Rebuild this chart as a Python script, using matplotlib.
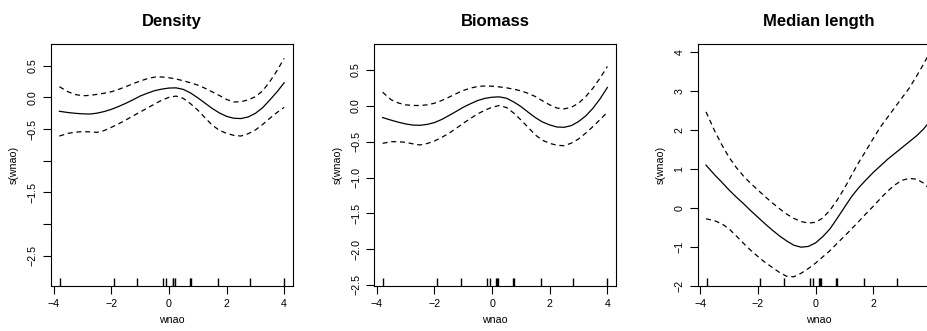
import matplotlib
matplotlib.use('Agg')
import matplotlib.pyplot as plt

plt.rcParams['font.family'] = ['Liberation Sans', 'DejaVu Sans']

wnao = [-3.8, -3.5, -3.25, -3.0, -2.75, -2.5, -2.25, -2.0, -1.75, -1.5, -1.25,
        -1.0, -0.75, -0.5, -0.25, 0.0, 0.25, 0.5, 0.75, 1.0, 1.25, 1.5, 1.75,
        2.0, 2.25, 2.5, 2.75, 3.0, 3.25, 3.5, 3.75, 4.0]

# observed wnao values (rug)
rug_x = [-3.78, -1.91, -1.09, -0.19, -0.09, 0.13, 0.16, 0.20,
         0.72, 0.76, 1.70, 2.82, 3.98]

# Density
dens_fit = [-0.22, -0.24, -0.252, -0.26, -0.264, -0.25, -0.225, -0.19, -0.145,
            -0.095, -0.04, 0.02, 0.065, 0.105, 0.13, 0.147, 0.15, 0.126, 0.07,
            -0.006, -0.09, -0.174, -0.245, -0.30, -0.33, -0.335, -0.31, -0.253,
            -0.165, -0.043, 0.085, 0.23]
dens_up = [0.168, 0.088, 0.045, 0.026, 0.03, 0.047, 0.065, 0.088, 0.125, 0.168,
           0.215, 0.257, 0.295, 0.32, 0.322, 0.31, 0.29, 0.262, 0.23, 0.194,
           0.145, 0.088, 0.03, -0.032, -0.074, -0.069, -0.04, 0.01, 0.1, 0.247,
           0.42, 0.616]
dens_lo = [-0.611, -0.569, -0.55, -0.542, -0.545, -0.553, -0.525, -0.474,
           -0.42, -0.358, -0.295, -0.232, -0.17, -0.106, -0.045, 0.0, 0.02,
           -0.016, -0.1, -0.2, -0.32, -0.437, -0.52, -0.569, -0.6, -0.611,
           -0.575, -0.516, -0.43, -0.332, -0.24, -0.158]

# Biomass
bio_fit = [-0.163, -0.2, -0.228, -0.252, -0.268, -0.271, -0.258, -0.233, -0.19,
           -0.135, -0.078, -0.019, 0.03, 0.075, 0.105, 0.121, 0.126, 0.107,
           0.055, -0.009, -0.088, -0.163, -0.225, -0.266, -0.295, -0.299,
           -0.275, -0.219, -0.14, -0.033, 0.1, 0.257]
bio_up = [0.191, 0.084, 0.04, 0.014, 0.006, 0.005, 0.015, 0.037, 0.075, 0.121,
          0.17, 0.215, 0.248, 0.271, 0.278, 0.275, 0.265, 0.252, 0.233, 0.21,
          0.175, 0.131, 0.07, 0.014, -0.03, -0.042, -0.02, 0.037, 0.13, 0.247,
          0.39, 0.55]
bio_lo = [-0.523, -0.5, -0.5, -0.509, -0.53, -0.546, -0.525, -0.49, -0.44,
          -0.383, -0.315, -0.243, -0.175, -0.112, -0.06, -0.019, 0.005, -0.023,
          -0.1, -0.196, -0.3, -0.406, -0.48, -0.523, -0.55, -0.556, -0.52,
          -0.462, -0.38, -0.289, -0.19, -0.089]

# Median length
len_fit = [1.10, 0.85, 0.66, 0.46, 0.28, 0.11, -0.07, -0.24, -0.41, -0.57,
           -0.72, -0.85, -0.96, -1.01, -0.99, -0.90, -0.74, -0.54, -0.27, 0.01,
           0.29, 0.52, 0.72, 0.91, 1.08, 1.25, 1.40, 1.55, 1.70, 1.85, 2.03,
           2.25]
len_up = [2.47, 1.98, 1.62, 1.30, 1.04, 0.82, 0.63, 0.46, 0.29, 0.13, -0.02,
          -0.16, -0.27, -0.35, -0.39, -0.37, -0.26, -0.06, 0.2, 0.5, 0.84,
          1.17, 1.47, 1.78, 2.08, 2.33, 2.58, 2.83, 3.08, 3.38, 3.7, 4.05]
len_lo = [-0.28, -0.33, -0.41, -0.54, -0.72, -0.91, -1.09, -1.25, -1.40,
          -1.53, -1.66, -1.76, -1.77, -1.68, -1.56, -1.42, -1.26, -1.1, -0.91,
          -0.73, -0.54, -0.35, -0.15, 0.04, 0.24, 0.43, 0.59, 0.71, 0.76,
          0.74, 0.64, 0.45]

titles = ['Density', 'Biomass', 'Median length']
fits = [dens_fit, bio_fit, len_fit]
ups = [dens_up, bio_up, len_up]
los = [dens_lo, bio_lo, len_lo]
ylims = [(-2.975, 0.843), (-2.51, 0.864), (-1.99, 4.216)]
yticks = [[-2.5, -2.0, -1.5, -1.0, -0.5, 0.0, 0.5],
          [-2.5, -2.0, -1.5, -1.0, -0.5, 0.0, 0.5],
          [-2, -1, 0, 1, 2, 3, 4]]
ylabels = [['\u22122.5', '', '\u22121.5', '', '\u22120.5', '0.0', '0.5'],
           ['\u22122.5', '\u22122.0', '\u22121.5', '\u22121.0', '\u22120.5', '0.0', '0.5'],
           ['\u22122', '\u22121', '0', '1', '2', '3', '4']]
xticks = [-4, -2, 0, 2, 4]

fig = plt.figure(figsize=(9.28, 3.31), dpi=100)
lefts = [0.0550, 0.4033, 0.7518]

for i in range(3):
    ax = fig.add_axes([lefts[i], 0.1369, 0.2605, 0.7302])
    ax.plot(wnao, fits[i], color='black', lw=0.9)
    ax.plot(wnao, ups[i], color='black', lw=0.9, linestyle=(0, (4, 3)))
    ax.plot(wnao, los[i], color='black', lw=0.9, linestyle=(0, (4, 3)))
    ax.vlines(rug_x, 0, 0.03, transform=ax.get_xaxis_transform(),
              color='black', lw=1.0)
    ax.set_xlim(-4.09, 4.30)
    ax.set_ylim(*ylims[i])
    ax.set_xticks(xticks)
    ax.set_xticklabels(['\u22124', '\u22122', '0', '2', '4'])
    ax.set_yticks(yticks[i])
    ax.set_yticklabels(ylabels[i], rotation=90, va='center')
    ax.tick_params(direction='out', length=6, width=0.8, labelsize=7.7,
                   pad=3.5)
    for s in ax.spines.values():
        s.set_linewidth(0.8)
    ax.set_title(titles[i], fontsize=12, fontweight='bold', pad=13)
    ax.set_xlabel('wnao', fontsize=7.7)
    ax.set_ylabel('s(wnao)', fontsize=7.7)
    ax.xaxis.set_label_coords(0.5, -0.122)
    ax.yaxis.set_label_coords(-0.132, 0.5)

fig.savefig('out.png', dpi=100)
